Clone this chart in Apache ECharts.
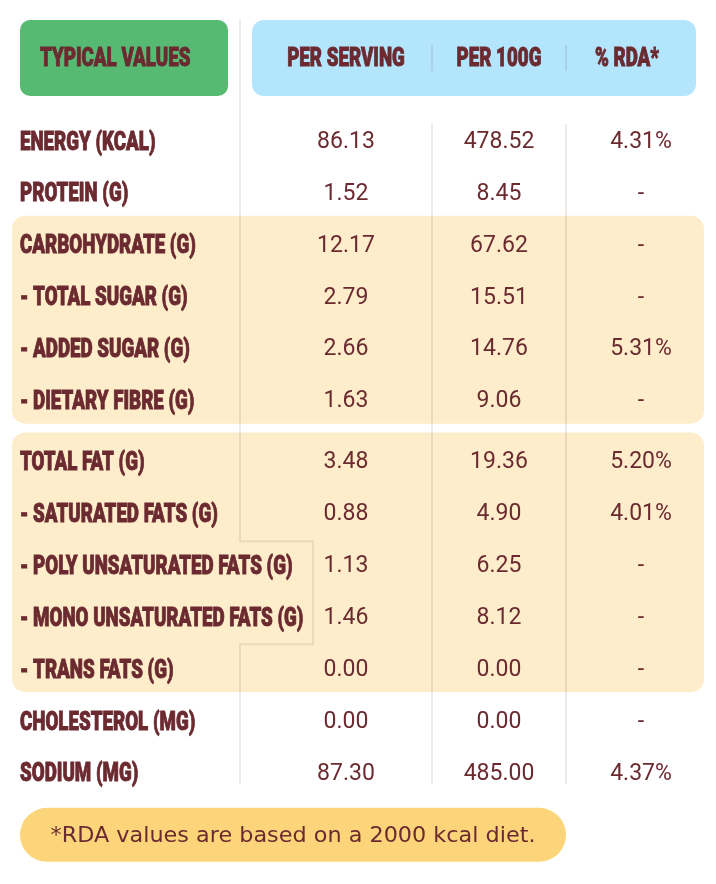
<!DOCTYPE html>
<html><head><meta charset="utf-8">
<script src="https://cdn.jsdelivr.net/npm/echarts/dist/echarts.min.js"></script>
<style>html,body{margin:0;padding:0;background:#fff}#c{width:716px;height:884px}</style>
</head><body><div id="c"></div>
<script>
// ---------- DATA ----------
const rowLabels = ['ENERGY (KCAL)','PROTEIN (G)','CARBOHYDRATE (G)','- TOTAL SUGAR (G)','- ADDED SUGAR (G)','- DIETARY FIBRE (G)','TOTAL FAT (G)','- SATURATED FATS (G)','- POLY UNSATURATED FATS (G)','- MONO UNSATURATED FATS (G)','- TRANS FATS (G)','CHOLESTEROL (MG)','SODIUM (MG)'];
const perServing = [86.13,1.52,12.17,2.79,2.66,1.63,3.48,0.88,1.13,1.46,0.00,0.00,87.30];
const per100g = [478.52,8.45,67.62,15.51,14.76,9.06,19.36,4.90,6.25,8.12,0.00,0.00,485.00];
const rdaPercent = [4.31,null,null,null,5.31,null,5.20,4.01,null,null,null,null,4.37];
const headerLabels = ['TYPICAL VALUES','PER SERVING','PER 100G','% RDA*'];
const highlightGroups = [[2,5],[6,10]];
const wideLabelRows = [8,9];
const footnote = '*RDA values are based on a 2000 kcal diet.';

// ---------- LAYOUT / STYLE ----------
const W = 716, H = 884;
const ROW_H = 51.93, ROW0 = 140, GROUP_GAP = 0.17;
const COL_X = [20, 346, 499, 641];
const HEAD_X = [40, 346, 499, 627];
const HEAD_U = -1.58, HEAD_HALF = 38;
const FOOT_U = 13.38;
const TEXT = '#6B2A30';
const LINE = 'rgba(110,42,48,0.10)';
const CONDENSED = 0.72;
const TEXT_DY = 2;
const labelFont = '900 26px Roboto, "Noto Sans", sans-serif';
const numFont = '23px Roboto, "Noto Sans", sans-serif';
const footFont = '22px "DejaVu Sans", Roboto, sans-serif';

function rowU(i) { return i + (i >= 6 ? GROUP_GAP : 0); }
function fmt(v) { return v.toFixed(2); }

const cells = [];
rowLabels.forEach((lab, i) => {
  cells.push({col: 0, row: i, text: lab});
  cells.push({col: 1, row: i, text: fmt(perServing[i])});
  cells.push({col: 2, row: i, text: fmt(per100g[i])});
  cells.push({col: 3, row: i, text: rdaPercent[i] == null ? '-' : fmt(rdaPercent[i]) + '%'});
});

function txt(x, y, text, font, align, scaleX, heavy) {
  const st = {text: text, font: font, fill: TEXT, align: align, textAlign: align,
      verticalAlign: 'middle', textVerticalAlign: 'middle'};
  if (heavy) { st.stroke = TEXT; st.lineWidth = 0.9; }
  return {type: 'text', x: x, y: y, scaleX: scaleX || 1, style: st};
}

const chart = echarts.init(document.getElementById('c'), null, {renderer: 'canvas'});
chart.setOption({
  animation: false,
  backgroundColor: '#ffffff',
  grid: {left: 0, right: 0, top: 0, bottom: 0},
  xAxis: {type: 'value', min: 0, max: W, show: false},
  yAxis: {type: 'value', min: -ROW0 / ROW_H, max: (H - ROW0) / ROW_H, inverse: true, show: false},
  series: [
    { // highlighted groups
      type: 'custom', silent: true, clip: false,
      data: highlightGroups.map(g => [g[0], g[1]]),
      renderItem: function (params, api) {
        const g = highlightGroups[params.dataIndex];
        const a = api.coord([12, rowU(g[0])]);
        const b = api.coord([704, rowU(g[1])]);
        const top = a[1] - 28, bot = b[1] + 24;
        return {type: 'rect', shape: {x: a[0], y: top, width: b[0] - a[0], height: bot - top, r: 13},
          style: {fill: '#FDEDCB'}};
      }
    },
    { // header boxes + header text
      type: 'custom', silent: true, clip: false,
      data: [[0, HEAD_U]],
      renderItem: function (params, api) {
        const c = api.coord([0, HEAD_U]);
        const y = c[1];
        const g1 = api.coord([20, HEAD_U]), g2 = api.coord([228, HEAD_U]);
        const b1 = api.coord([252, HEAD_U]), b2 = api.coord([696, HEAD_U]);
        const ch = [
          {type: 'rect', shape: {x: g1[0], y: y - HEAD_HALF, width: g2[0] - g1[0], height: 2 * HEAD_HALF, r: 10}, style: {fill: '#56BA72'}},
          {type: 'rect', shape: {x: b1[0], y: y - HEAD_HALF, width: b2[0] - b1[0], height: 2 * HEAD_HALF, r: 12}, style: {fill: '#B3E5FC'}}
        ];
        [432, 566].forEach(xv => {
          const p = api.coord([xv, HEAD_U]);
          ch.push({type: 'line', shape: {x1: p[0], y1: y - 13, x2: p[0], y2: y + 13}, style: {stroke: LINE, lineWidth: 2}});
        });
        headerLabels.forEach((h, k) => {
          const p = api.coord([HEAD_X[k], HEAD_U]);
          ch.push(txt(p[0], y + 2, h, labelFont, k === 0 ? 'left' : 'center', CONDENSED, true));
        });
        return {type: 'group', children: ch};
      }
    },
    { // separator lines
      type: 'custom', silent: true, clip: false,
      data: [[0, 0]],
      renderItem: function (params, api) {
        const ch = [];
        const yTop = api.coord([0, HEAD_U])[1] - HEAD_HALF;
        const yBot = api.coord([0, rowU(rowLabels.length - 1)])[1] + 12;
        const yStart = api.coord([0, rowU(0)])[1] - 16;
        const r0 = wideLabelRows[0], r1 = wideLabelRows[wideLabelRows.length - 1];
        const jogTop = (api.coord([0, rowU(r0 - 1)])[1] + api.coord([0, rowU(r0)])[1]) / 2 + 3;
        const jogBot = (api.coord([0, rowU(r1)])[1] + api.coord([0, rowU(r1 + 1)])[1]) / 2 + 2;
        const xa = api.coord([240, 0])[0], xb = api.coord([313, 0])[0];
        ch.push({type: 'polyline', shape: {points: [[xa, yTop], [xa, jogTop], [xb, jogTop], [xb, jogBot], [xa, jogBot], [xa, yBot]]},
          style: {stroke: LINE, lineWidth: 2, fill: null}});
        [432, 566].forEach(xv => {
          const x = api.coord([xv, 0])[0];
          ch.push({type: 'line', shape: {x1: x, y1: yStart, x2: x, y2: yBot}, style: {stroke: LINE, lineWidth: 2}});
        });
        return {type: 'group', children: ch};
      }
    },
    { // cells
      type: 'custom', silent: true, clip: false,
      data: cells.map(c => [COL_X[c.col], rowU(c.row)]),
      renderItem: function (params, api) {
        const c = cells[params.dataIndex];
        const p = api.coord([COL_X[c.col], rowU(c.row)]);
        if (c.col === 0) return txt(p[0], p[1] + TEXT_DY + 1, c.text, labelFont, 'left', CONDENSED, true);
        return txt(p[0], p[1] + TEXT_DY, c.text, numFont, 'center', 1, false);
      }
    },
    { // footnote
      type: 'custom', silent: true, clip: false,
      data: [[0, FOOT_U]],
      renderItem: function (params, api) {
        const a = api.coord([20, FOOT_U]), b = api.coord([566, FOOT_U]);
        const m = api.coord([293, FOOT_U]);
        return {type: 'group', children: [
          {type: 'rect', shape: {x: a[0], y: a[1] - 27, width: b[0] - a[0], height: 54, r: 27}, style: {fill: '#FCD57A'}},
          txt(m[0], m[1] + 1, footnote, footFont, 'center', 1.015, false)
        ]};
      }
    }
  ]
});
</script></body></html>
